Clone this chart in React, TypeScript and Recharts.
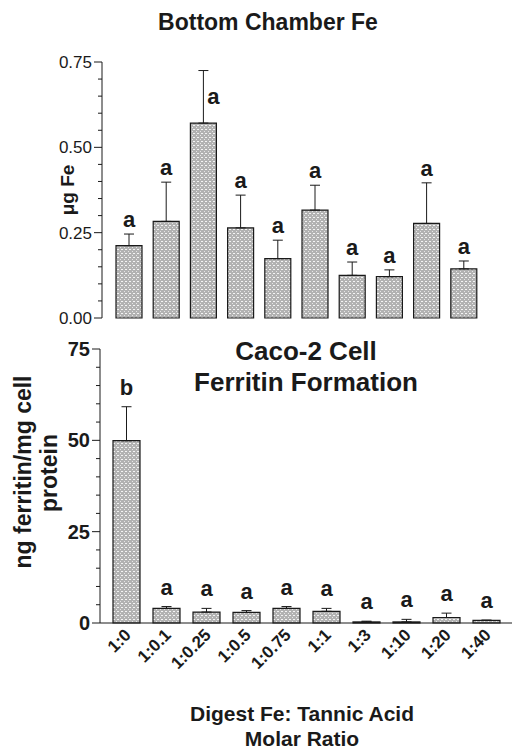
import { BarChart, Bar, XAxis, YAxis, ErrorBar, LabelList } from 'recharts'

const ratios = ['1:0', '1:0.1', '1:0.25', '1:0.5', '1:0.75', '1:1', '1:3', '1:10', '1:20', '1:40']

// top panel: bottom chamber Fe (ug)
const chamberFe = [0.212, 0.283, 0.571, 0.264, 0.174, 0.316, 0.125, 0.121, 0.277, 0.144]
const chamberFeSem = [0.034, 0.115, 0.154, 0.096, 0.054, 0.073, 0.039, 0.02, 0.119, 0.023]
const chamberLetters = ['a', 'a', 'a', 'a', 'a', 'a', 'a', 'a', 'a', 'a']
const feTicks = [0, 0.05, 0.1, 0.15, 0.2, 0.25, 0.3, 0.35, 0.4, 0.45, 0.5, 0.55, 0.6, 0.65, 0.7, 0.75]
const feMajor = [0, 0.25, 0.5, 0.75]

// bottom panel: ferritin (ng/mg cell protein)
const ferritin = [49.9, 4.0, 3.0, 2.9, 4.0, 3.2, 0.3, 0.3, 1.5, 0.7]
const ferritinSem = [9.3, 0.5, 1.0, 0.5, 0.5, 0.8, 0.2, 0.7, 1.2, 0.1]
const ferritinLetters = ['b', 'a', 'a', 'a', 'a', 'a', 'a', 'a', 'a', 'a']
const ferritinTicks = [0, 5, 10, 15, 20, 25, 30, 35, 40, 45, 50, 55, 60, 65, 70, 75]
const ferritinMajor = [0, 25, 50, 75]

const FONT = '"Liberation Sans", Arial, Helvetica, sans-serif'
const INK = '#1a1a1a'

const topData = ratios.map((r, i) => ({
  ratio: r,
  value: chamberFe[i],
  err: [0, chamberFeSem[i]],
}))

const bottomData = ratios.map((r, i) => ({
  ratio: r,
  value: ferritin[i],
  err: [0, ferritinSem[i]],
}))

const yTick =
  (major: number[], fmt: (v: number) => string, fontSize: number, bold: boolean) =>
  (props: any) => {
    const { x, y, payload } = props
    const v = payload.value
    const isMajor = major.some((m) => Math.abs(m - v) < 1e-9)
    return (
      <g>
        <line x1={x - (isMajor ? 8 : 4)} x2={x} y1={y} y2={y} stroke={INK} strokeWidth={1} />
        {isMajor && (
          <text
            x={x - 10}
            y={y}
            dy="0.35em"
            textAnchor="end"
            fontSize={fontSize}
            fontWeight={bold ? 700 : 400}
            fontFamily={FONT}
            fill={INK}
          >
            {fmt(v)}
          </text>
        )}
      </g>
    )
  }

const letterLabel =
  (letters: string[], sems: number[], gap: number, plotTop: number) => (props: any) => {
    const vb = props.viewBox ?? props
    const x = props.x ?? vb.x
    const y = props.y ?? vb.y
    const width = props.width ?? vb.width
    const height = Math.abs(props.height ?? vb.height)
    const i = props.index
    const val = typeof props.value === 'number' ? props.value : Number(props.value)
    const errTop = y - (sems[i] * height) / val
    const cx = x + width / 2
    let tx = cx
    let ty = errTop - gap
    // no room above the whisker: put the letter beside it
    if (ty - 14 < plotTop) {
      tx = cx + 10
      ty = errTop + 33
    }
    return (
      <text
        key={`lbl-${i}`}
        x={tx}
        y={ty}
        textAnchor="middle"
        fontSize={22}
        fontWeight={700}
        fontFamily={FONT}
        fill={INK}
      >
        {letters[i]}
      </text>
    )
  }

const ratioTick = (props: any) => {
  const { x, y, payload } = props
  return (
    <text
      x={x + 6}
      y={y + 13}
      textAnchor="end"
      fontSize={17}
      fontWeight={700}
      fontFamily={FONT}
      fill={INK}
      transform={`rotate(-45 ${x + 6} ${y + 13})`}
    >
      {payload.value}
    </text>
  )
}

const Stipple = ({ id }: { id: string }) => (
  <defs>
    <pattern id={id} width="4" height="4" patternUnits="userSpaceOnUse">
      <rect width="4" height="4" fill="#b2b2b2" />
      <rect x="1" y="1" width="2" height="1" fill="#f4f4f4" />
      <rect x="0" y="3" width="1" height="1" fill="#e6e6e6" />
    </pattern>
  </defs>
)

export default function App() {
  return (
    <div
      style={{
        position: 'absolute',
        left: 0,
        top: 0,
        width: 512,
        height: 755,
        background: '#fff',
        fontFamily: FONT,
      }}
    >
      <div style={{ position: 'absolute', left: 0, top: 0 }}>
        <BarChart
          width={512}
          height={330}
          data={topData}
          margin={{ top: 62, right: 22, bottom: 12, left: 62 }}
          barSize={26}
        >
          <Stipple id="stippleTop" />
          <XAxis
            dataKey="ratio"
            height={0}
            tick={false}
            tickLine={false}
            axisLine={{ stroke: INK, strokeWidth: 1 }}
            padding={{ left: 8, right: 8 }}
          />
          <YAxis
            width={40}
            domain={[0, 0.75]}
            ticks={feTicks}
            interval={0}
            tickSize={0}
            tickMargin={0}
            tickLine={false}
            axisLine={{ stroke: INK, strokeWidth: 1 }}
            tick={yTick(feMajor, (v) => v.toFixed(2), 17, false)}
          />
          <Bar
            dataKey="value"
            fill="url(#stippleTop)"
            stroke={INK}
            strokeWidth={1.2}
            isAnimationActive={false}
          >
            <ErrorBar dataKey="err" width={5} stroke={INK} strokeWidth={1} direction="y" />
            <LabelList
              dataKey="value"
              content={letterLabel(chamberLetters, chamberFeSem, 7, 62)}
            />
          </Bar>
        </BarChart>
      </div>

      <div style={{ position: 'absolute', left: 0, top: 330 }}>
        <BarChart
          width={512}
          height={425}
          data={bottomData}
          margin={{ top: 19, right: 0, bottom: 62, left: 60 }}
          barSize={27}
        >
          <Stipple id="stippleBottom" />
          <XAxis
            dataKey="ratio"
            height={70}
            interval={0}
            tickSize={0}
            tickMargin={0}
            tickLine={false}
            axisLine={{ stroke: INK, strokeWidth: 1 }}
            padding={{ left: 6, right: 6 }}
            tick={ratioTick}
          />
          <YAxis
            width={40}
            domain={[0, 75]}
            ticks={ferritinTicks}
            interval={0}
            tickSize={0}
            tickMargin={0}
            tickLine={false}
            axisLine={{ stroke: INK, strokeWidth: 1 }}
            tick={yTick(ferritinMajor, (v) => String(v), 20, true)}
          />
          <Bar
            dataKey="value"
            fill="url(#stippleBottom)"
            stroke={INK}
            strokeWidth={1.2}
            isAnimationActive={false}
          >
            <ErrorBar dataKey="err" width={5} stroke={INK} strokeWidth={1} direction="y" />
            <LabelList
              dataKey="value"
              content={letterLabel(ferritinLetters, ferritinSem, 12, 19)}
            />
          </Bar>
        </BarChart>
      </div>

      <svg
        width={512}
        height={755}
        style={{ position: 'absolute', left: 0, top: 0, pointerEvents: 'none' }}
      >
        <g fontFamily={FONT} fontWeight={700} fill={INK}>
          <text x={268} y={30} fontSize={23} textAnchor="middle">
            Bottom Chamber Fe
          </text>
          <text x={74} y={190} fontSize={19} textAnchor="middle" transform="rotate(-90 74 190)">
            μg Fe
          </text>
          <text x={306} y={360} fontSize={26} textAnchor="middle">
            Caco-2 Cell
          </text>
          <text x={306} y={391} fontSize={26} textAnchor="middle">
            Ferritin Formation
          </text>
          <text x={31} y={472} fontSize={23} textAnchor="middle" transform="rotate(-90 31 472)">
            ng ferritin/mg cell
          </text>
          <text x={57} y={473} fontSize={23} textAnchor="middle" transform="rotate(-90 57 473)">
            protein
          </text>
          <text x={302} y={721} fontSize={21} textAnchor="middle">
            Digest Fe: Tannic Acid
          </text>
          <text x={302} y={746} fontSize={21} textAnchor="middle">
            Molar Ratio
          </text>
        </g>
      </svg>
    </div>
  )
}
